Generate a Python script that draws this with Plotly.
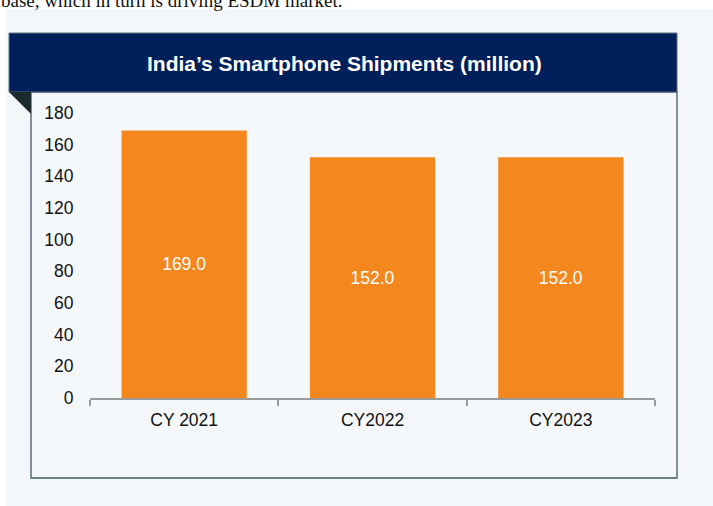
import plotly.graph_objects as go

categories = ["CY 2021", "CY2022", "CY2023"]
shipments = [169.0, 152.0, 152.0]
y_ticks = [0, 20, 40, 60, 80, 100, 120, 140, 160, 180]
title_text = "India’s Smartphone Shipments (million)"
top_text = "base, which in turn is driving ESDM market."

W, H = 713, 506
L, R, T, B = 90, 58, 113, 108
PW, PH = W - L - R, H - T - B


def px(x):
    return (x - L) / PW


def py(y):
    return (H - B - y) / PH


fig = go.Figure()
fig.add_trace(go.Bar(
    x=categories, y=shipments,
    marker=dict(color="#f5871f", line=dict(width=0)),
    texttemplate="%{y:.1f}", textposition="inside", insidetextanchor="middle",
    textfont=dict(family="Liberation Sans, Arial", size=17.5, color="white"),
    width=0.665,
))

shapes = [
    dict(type="rect", xref="paper", yref="paper", x0=px(6), x1=px(713), y0=py(9), y1=py(506),
         fillcolor="#f4f7f9", line=dict(width=0), layer="below"),
    dict(type="rect", xref="paper", yref="paper", x0=px(31), x1=px(677), y0=py(92), y1=py(478),
         fillcolor="#f5f8fa", line=dict(color="#3e5b62", width=1.3), layer="below"),
    dict(type="rect", xref="paper", yref="paper", x0=px(9), x1=px(677), y0=py(33), y1=py(92),
         fillcolor="#001f5b", line=dict(color="#5d7280", width=1), layer="below"),
    dict(type="path", xref="paper", yref="paper",
         path=f"M {px(9)},{py(92)} L {px(31)},{py(92)} L {px(31)},{py(114)} Z",
         fillcolor="#1b2a2c", line=dict(width=0), layer="below"),
]

annotations = [
    dict(text=f"<b>{title_text}</b>", xref="paper", yref="paper", x=px(344), y=py(64),
         xanchor="center", yanchor="middle", showarrow=False,
         font=dict(family="Liberation Sans, Arial", size=21, color="white")),
    dict(text=top_text, xref="paper", yref="paper", x=px(-1), y=py(0),
         xanchor="left", yanchor="middle", showarrow=False,
         font=dict(family="Liberation Serif, Times New Roman", size=19, color="#111111")),
]

fig.update_layout(
    width=W, height=H, margin=dict(l=L, r=R, t=T, b=B, pad=0),
    paper_bgcolor="white", plot_bgcolor="rgba(0,0,0,0)",
    showlegend=False, shapes=shapes, annotations=annotations,
    font=dict(family="Liberation Sans, Arial", size=17.5, color="#111111"),
)
fig.update_xaxes(
    type="category", range=[-0.5, 2.5], showline=True, linecolor="#9a9a9a", linewidth=1.5,
    ticks="outside", tickson="boundaries", ticklen=6, tickcolor="#9a9a9a", tickwidth=1.5,
    ticklabelstandoff=5,
    showgrid=False, zeroline=False, tickfont=dict(size=17.5, color="#111111"),
)
fig.update_yaxes(
    range=[0, 180], tickvals=y_ticks, showline=False, showgrid=False, zeroline=False,
    ticks="outside", ticklen=12, tickcolor="rgba(0,0,0,0)",
    tickfont=dict(size=17.5, color="#111111"),
)

fig.write_html("out.html", config={"displayModeBar": False},
               post_script="document.body.style.margin='0';")
